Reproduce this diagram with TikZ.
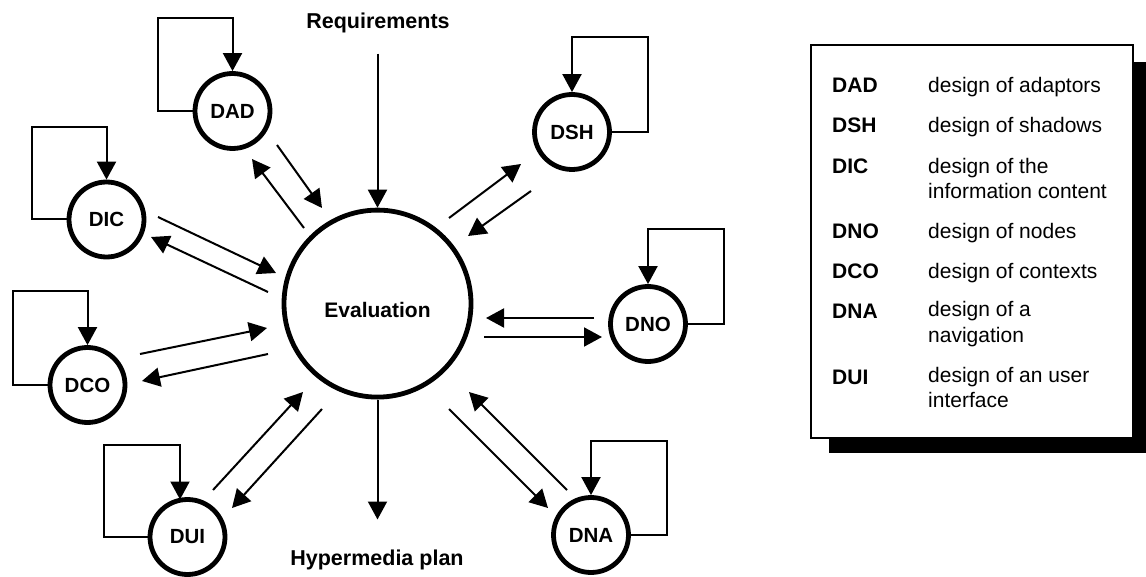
\documentclass[tikz,border=0pt]{standalone}
\usepackage{fontspec}
\setmainfont{Liberation Sans}
\usetikzlibrary{arrows.meta,calc}
\begin{document}
\begin{tikzpicture}[x=1pt,y=-1pt,
  proc/.style={circle,draw,line width=4.8pt,inner sep=0pt,minimum size=75pt,font=\fontsize{20.5}{24}\selectfont\bfseries},
  arr/.style={line width=2pt,-{Triangle[length=18pt,width=19pt]}},
  lbl/.style={inner sep=0pt,font=\fontsize{21.5}{25}\selectfont\bfseries},
  abbr/.style={anchor=base west,inner sep=0pt,font=\fontsize{21}{25}\selectfont\bfseries},
  desc/.style={anchor=base west,inner sep=0pt,align=left,font=\fontsize{21}{25}\selectfont}]
\useasboundingbox (0,0) rectangle (1146,577);

% central process
\node[proc,minimum size=187pt] (ev) at (377.5,303.6) {};
\node[lbl,font=\fontsize{21}{25}\selectfont\bfseries] (evl) at (377.5,310) {Evaluation};

% design steps
\node[proc] (dad) at (232.5,111) {DAD};
\node[proc] (dic) at (106.5,219.5) {DIC};
\node[proc] (dco) at (87.5,385) {DCO};
\node[proc] (dsh) at (572,132) {DSH};
\node[proc] (dno) at (648,324) {DNO};
\node[proc] (dna) at (591,535) {DNA};
\node[proc] (dui) at (187.5,537) {DUI};

% input / output
\node[lbl,anchor=base] (req) at (378,28.5) {Requirements};
\node[lbl,anchor=base] (hyp) at (377,565) {Hypermedia plan};
\draw[arr] ($(ev.north)+(0,-154)$) -- (ev.north);
\draw[arr] (ev.south) -- ($(ev.south)+(0,120)$);

% self loops
\draw[arr] (dad.west) -| ($(dad)+(-74.5,-93)$) -| (dad.north);
\draw[arr] (dic.west) -| ($(dic)+(-74.5,-92.5)$) -| (dic.north);
\draw[arr] (dco.west) -| ($(dco)+(-74.5,-94)$) -| (dco.north);
\draw[arr] (dsh.east) -| ($(dsh)+(76,-95)$) -| (dsh.north);
\draw[arr] (dno.east) -| ($(dno)+(76,-95)$) -| (dno.north);
\draw[arr] (dna.east) -| ($(dna)+(76,-94)$) -| (dna.north);
\draw[arr] (dui.west) -| ($(dui)+(-83.5,-92)$) -| ($(dui)+(-7.5,-37.5)$);

% exchanges with evaluation
\draw[arr] ($(dad)+(44.5,34)$) -- ($(ev)+(-55.5,-95.6)$);
\draw[arr] ($(ev)+(-73.5,-75.6)$) -- ($(dad)+(19.5,48)$);
\draw[arr] ($(dic)+(51.5,-2.5)$) -- ($(ev)+(-101.5,-30.6)$);
\draw[arr] ($(ev)+(-109.5,-11.6)$) -- ($(dic)+(44.5,17.5)$);
\draw[arr] ($(dco)+(52.5,-31)$) -- ($(ev)+(-110.5,24.4)$);
\draw[arr] ($(ev)+(-109.5,50.4)$) -- ($(dco)+(54.5,-4)$);
\draw[arr] ($(dui)+(25.5,-47)$) -- ($(ev)+(-74.5,88.4)$);
\draw[arr] ($(ev)+(-55.5,105.4)$) -- ($(dui)+(44.5,-29)$);
\draw[arr] ($(ev)+(71.5,105.4)$) -- ($(dna)+(-43,-27)$);
\draw[arr] ($(dna)+(-24,-45)$) -- ($(ev)+(91.5,88.4)$);
\draw[arr] ($(dno)+(-54,-6)$) -- ($(ev)+(108.5,14.4)$);
\draw[arr] ($(ev)+(106.5,33.4)$) -- ($(dno)+(-46,13)$);
\draw[arr] ($(ev)+(71.5,-85.6)$) -- ($(dsh)+(-51,32)$);
\draw[arr] ($(dsh)+(-41,59)$) -- ($(ev)+(90.5,-67.6)$);

% legend
\fill (829,62) rectangle (1146,453);
\draw[line width=1.8pt,fill=white] (811,45) rectangle (1133,438);
\node[abbr] (a1) at (832,92.7) {DAD};
\node[desc] (d1) at (928,92.7) {design of adaptors};
\node[abbr] (a2) at (832,132.7) {DSH};
\node[desc] (d2) at (928,132.7) {design of shadows};
\node[abbr] (a3) at (832,173.3) {DIC};
\node[desc] (d3) at (928,198.3) {design of the\\information content};
\node[abbr] (a4) at (832,238.3) {DNO};
\node[desc] (d4) at (928,238.3) {design of nodes};
\node[abbr] (a5) at (832,278.3) {DCO};
\node[desc] (d5) at (928,278.3) {design of contexts};
\node[abbr] (a6) at (832,318.3) {DNA};
\node[desc] (d6) at (928,342) {design of a\\navigation};
\node[abbr] (a7) at (832,384) {DUI};
\node[desc] (d7) at (928,407) {design of an user\\interface};
\end{tikzpicture}
\end{document}
